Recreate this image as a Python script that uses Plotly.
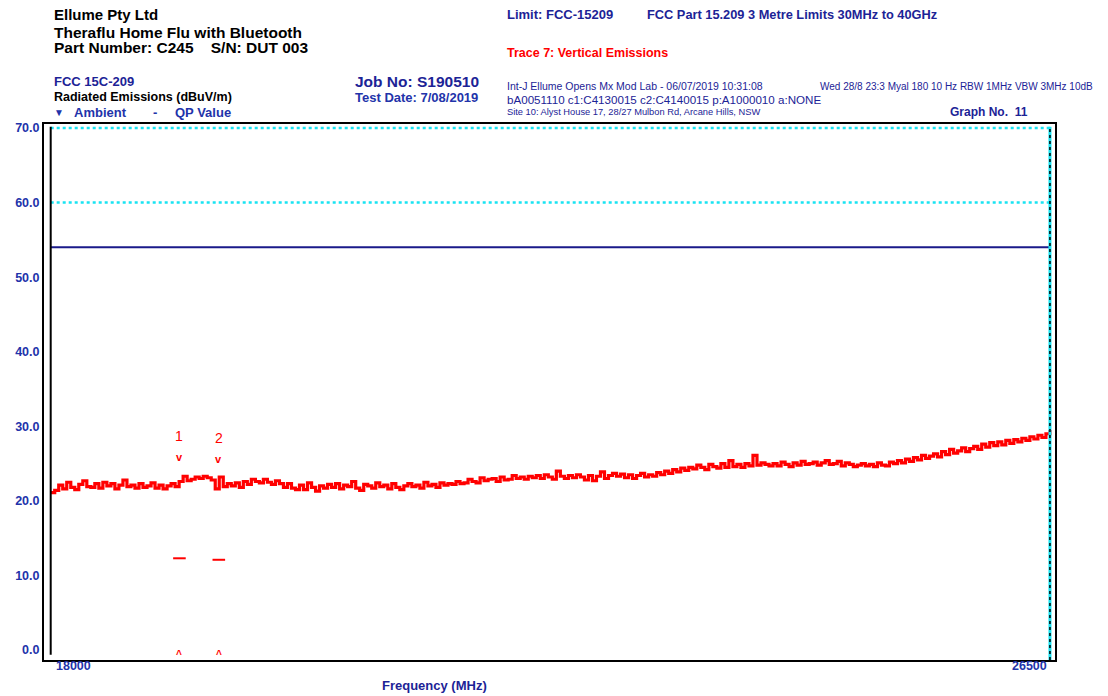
import numpy as np
import plotly.graph_objects as go

# Sweep settings (MHz)
F_START = 18000
F_STOP = 26500

# Trace 7: vertical emissions, dBuV/m, evenly spaced sweep points
level = [
    21.1, 21.4, 22.1, 21.6, 22.5, 21.8, 21.5, 22.2, 22.7, 21.9,
    21.8, 22.3, 21.7, 22.5, 22.0, 22.3, 21.6, 22.1, 22.8, 21.9,
    22.1, 21.7, 22.3, 21.8, 22.0, 22.4, 21.7, 22.1, 21.6, 22.0,
    22.3, 21.9, 22.6, 23.3, 22.7, 22.9, 23.2, 23.0, 23.3, 23.1,
    22.8, 21.6, 23.2, 21.9, 22.3, 22.0, 22.4, 21.8, 22.6, 22.2,
    22.9, 22.6, 22.4, 22.9, 22.5, 22.2, 22.7, 22.3, 21.8, 22.3,
    21.7, 21.5, 22.1, 21.5, 22.4, 21.8, 21.3, 22.0, 21.7, 22.2,
    21.8, 22.3, 21.6, 22.1, 21.9, 22.6, 21.7, 21.4, 22.2, 22.0,
    21.7, 22.4, 21.9, 22.1, 21.6, 22.3, 21.8, 21.5, 22.0, 22.3,
    21.9, 22.1, 21.7, 22.5, 22.0, 22.2, 21.8, 22.4, 22.1, 22.3,
    22.2, 22.6, 22.3, 22.4, 22.9, 22.6, 22.4, 23.1, 22.7, 22.9,
    23.0, 22.6, 23.2, 22.8, 22.9, 23.4, 23.0, 23.2, 22.9, 23.3,
    23.1, 23.4, 23.0, 23.5, 23.2, 22.9, 24.0, 23.3, 23.0, 23.4,
    23.1, 23.5, 23.2, 22.8, 23.4, 22.7, 23.3, 23.9, 23.0, 23.4,
    23.7, 23.3, 23.6, 23.1, 23.5, 23.0, 23.4, 23.7, 23.2, 23.5,
    23.3, 23.8, 23.5, 24.0, 23.7, 24.2, 23.9, 24.4, 24.1, 24.5,
    24.3, 24.8, 24.5, 24.2, 24.9, 24.6, 24.4, 25.0, 24.5, 25.4,
    24.6, 24.9, 24.5, 25.0, 24.7, 26.1, 24.8, 25.1, 24.9, 24.7,
    25.0, 24.7, 25.2, 24.9, 24.6, 25.1, 24.8, 25.3, 24.9, 25.0,
    25.2, 24.8, 25.1, 25.4, 24.9, 25.0, 25.3, 24.7, 25.1, 24.9,
    24.6, 24.8, 25.0, 24.7, 24.9, 24.6, 25.1, 24.8, 24.7, 25.2,
    25.0, 25.4, 25.1, 25.6, 25.3, 25.8, 25.5, 26.1, 25.7, 26.0,
    26.3, 25.9, 26.6, 26.2, 26.9, 26.4, 26.7, 27.1, 26.6, 27.0,
    27.3, 26.9, 27.6, 27.2, 27.8, 27.4, 27.9, 27.5, 28.1, 27.7,
    28.2, 27.9, 28.4, 28.1, 28.6, 28.3, 28.8, 28.5, 29.0, 29.5,
]
freq = np.linspace(F_START, F_STOP, len(level))

# Markers
marker_ids = ["1", "2"]
marker_freq = [19095, 19430]
ambient_peak = [23.3, 23.1]
qp_value = [12.3, 12.1]

# Limit / reference lines (dBuV/m)
limit_level = 54.0
ref_levels = [70.0, 60.0]

y_ticks = [0, 10, 20, 30, 40, 50, 60, 70]
y_ticktext = ["0.0", "10.0", "20.0", "30.0", "40.0", "50.0", "60.0", "70.0"]

NAVY = "#1c2396"
BLUE = "#2233aa"
RED = "#ff0000"
CYAN = "#19e3f2"
FONT = "Liberation Sans"

# plot frame in page pixels
L, R, T, B = 44, 1055, 124, 660
W, H = 1108, 696


def px(x):
    return (x - L) / (R - L)


def py(y):
    return (B - y) / (B - T)


fig = go.Figure()

# limit line
fig.add_trace(go.Scatter(
    x=[F_START, F_STOP], y=[limit_level, limit_level], mode="lines",
    line=dict(color="#1a1a8a", width=2), hoverinfo="skip", showlegend=False))

# reference dotted lines
for lv in ref_levels:
    fig.add_trace(go.Scatter(
        x=[F_START, F_STOP], y=[lv, lv], mode="lines",
        line=dict(color=CYAN, width=2.5, dash="dot"),
        hoverinfo="skip", showlegend=False))

# emission trace
fig.add_trace(go.Scatter(
    x=freq, y=level, mode="lines", line=dict(color=RED, width=3.2, shape="hv"),
    showlegend=False))

# QP values
fig.add_trace(go.Scatter(
    x=marker_freq, y=qp_value, mode="markers",
    marker=dict(symbol="line-ew", size=9, line=dict(color=RED, width=2)),
    showlegend=False))

annotations = []
for mid, f, a in zip(marker_ids, marker_freq, ambient_peak):
    annotations.append(dict(x=f, y=a, xref="x", yref="y", text="<b>v</b>", showarrow=False,
                            yshift=19, font=dict(family=FONT, size=11, color=RED)))
    annotations.append(dict(x=f, y=a, xref="x", yref="y", text=mid, showarrow=False,
                            yshift=40, font=dict(family=FONT, size=14, color=RED)))
    annotations.append(dict(x=f, y=0, xref="x", yref="y", text="<b>^</b>", showarrow=False,
                            yshift=-4, font=dict(family=FONT, size=10, color=RED)))

# frequency end labels
annotations.append(dict(x=F_START, y=py(666), xref="x", yref="paper", text="<b>18000</b>",
                        xanchor="left", yanchor="middle", xshift=3, showarrow=False,
                        font=dict(family=FONT, size=12.5, color=BLUE)))
annotations.append(dict(x=F_STOP, y=py(666), xref="x", yref="paper", text="<b>26500</b>",
                        xanchor="right", yanchor="middle", xshift=-1, showarrow=False,
                        font=dict(family=FONT, size=12.5, color=BLUE)))


def label(x, y, text, size, color, bold=True, anchor="left"):
    t = f"<b>{text}</b>" if bold else text
    annotations.append(dict(x=px(x), y=py(y), xref="paper", yref="paper", text=t,
                            xanchor=anchor, yanchor="middle", showarrow=False,
                            font=dict(family=FONT, size=size, color=color)))


label(52, 15, "Ellume Pty Ltd", 15, "#000000")
label(52, 32, "Theraflu Home Flu with Bluetooth", 15.5, "#000000")
label(52, 48, "Part Number: C245&nbsp;&nbsp;&nbsp;&nbsp;S/N: DUT 003", 15.5, "#000000")
label(52, 82, "FCC 15C-209", 13, NAVY)
label(52, 97, "Radiated Emissions (dBuV/m)", 12.5, "#000000")
label(52, 112, "▼", 10, BLUE)
label(72, 112, "Ambient", 13, BLUE)
label(151, 112, "-", 13, BLUE)
label(173, 112, "QP Value", 13, BLUE)
label(353, 82, "Job No: S190510", 15.5, NAVY)
label(353, 97, "Test Date: 7/08/2019", 13, BLUE)

label(505, 15, "Limit: FCC-15209", 13, NAVY)
label(645, 15, "FCC Part 15.209 3 Metre Limits 30MHz to 40GHz", 12.8, NAVY)
label(505, 53, "Trace 7: Vertical Emissions", 12.5, RED)
label(505, 86, "Int-J Ellume Opens Mx Mod Lab - 06/07/2019 10:31:08", 10.5, NAVY, bold=False)
label(818, 86, "Wed 28/8 23:3 Myal 180 10 Hz RBW 1MHz VBW 3MHz 10dB", 10, NAVY, bold=False)
label(505, 99, "bA0051110 c1:C4130015 c2:C4140015 p:A1000010 a:NONE", 11.6, NAVY, bold=False)
label(505, 112, "Site 10: Alyst House 17, 28/27 Mulbon Rd, Arcane Hills, NSW", 9.3, NAVY, bold=False)
label(948, 112, "Graph No.&nbsp;&nbsp;11", 12, NAVY)
label(434, 685, "Frequency (MHz)", 13, NAVY, anchor="center")

shapes = [
    # inner left boundary at sweep start
    dict(type="line", xref="x", yref="paper", x0=F_START, x1=F_START, y0=0.01, y1=0.995,
         line=dict(color="#000000", width=2)),
    # sweep stop marker
    dict(type="line", xref="x", yref="paper", x0=F_STOP, x1=F_STOP, y0=0.0, y1=0.995,
         line=dict(color=CYAN, width=3)),
    dict(type="line", xref="x", yref="paper", x0=F_STOP, x1=F_STOP, y0=0.0, y1=0.995,
         line=dict(color="#000000", width=1.5, dash="dot")),
]

fig.update_layout(
    width=W, height=H,
    margin=dict(l=L, r=W - R, t=T, b=H - B, pad=0),
    paper_bgcolor="white", plot_bgcolor="white",
    showlegend=False,
    annotations=annotations,
    shapes=shapes,
    xaxis=dict(range=[17943, 26543], showgrid=False, zeroline=False,
               showticklabels=False, ticks="",
               showline=True, mirror=True, linecolor="#000000", linewidth=2),
    yaxis=dict(range=[-1.34, 70.54], showgrid=False, zeroline=False,
               tickvals=y_ticks, ticktext=[f"<b>{t}</b>" for t in y_ticktext], ticks="",
               tickfont=dict(family=FONT, size=12.5, color=BLUE),
               showline=True, mirror=True, linecolor="#000000", linewidth=2),
)

fig.write_html("out.html")
